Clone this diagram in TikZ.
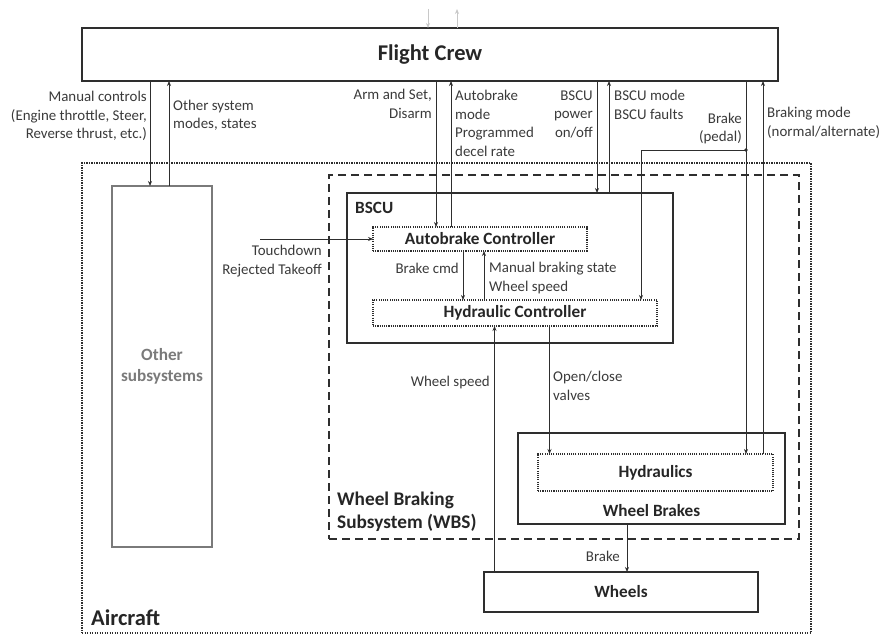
\documentclass[tikz,border=0pt]{standalone}
\usepackage{fontspec}
\setmainfont{Carlito}
\usetikzlibrary{arrows.meta}
\definecolor{txt}{HTML}{3A3A3A}
\definecolor{ln}{HTML}{2E2E2E}
\definecolor{gr}{HTML}{7A7A7A}
\definecolor{faint}{HTML}{C8C8C8}
\begin{document}
\begin{tikzpicture}[x=1pt,y=-1pt,
 box/.style={draw=ln, line width=1.4pt, inner sep=0pt, outer sep=0pt, anchor=north west},
 dotbox/.style={draw=ln, line width=1.1pt, dash pattern=on 1.1pt off 1.1pt, inner sep=0pt, outer sep=0pt, anchor=north west},
 arr/.style={draw=ln, line width=0.9pt, -{Stealth[length=5pt,width=4pt]}},
 farr/.style={draw=faint, line width=0.9pt, -{Stealth[length=5pt,width=4pt]}},
 lbl/.style={text=txt, font=\fontsize{14.9}{18.5}\selectfont, inner sep=0pt},
 blbl/.style={text=black!85, font=\fontsize{17.2}{20}\selectfont\bfseries, inner sep=0pt},
 sec/.style={text=black!85, font=\fontsize{22.5}{26}\selectfont\bfseries, inner sep=0pt}]
\useasboundingbox (0,0) rectangle (881,636);

% containers
\node[draw=ln, line width=1.5pt, dash pattern=on 1.2pt off 1.3pt, inner sep=0pt, outer sep=0pt, anchor=north west,
      minimum width=729pt, minimum height=470pt] (ac) at (82,163) {};
\node[draw=ln, line width=1.8pt, dash pattern=on 8pt off 5pt, inner sep=0pt, outer sep=0pt, anchor=north west,
      minimum width=470pt, minimum height=364pt] (wbs) at (329,175) {};
\node[sec, anchor=west] (aclbl) at (91,618) {Aircraft};
\node[text=black!85, font=\fontsize{19.3}{23}\selectfont\bfseries, inner sep=0pt, anchor=west, align=left] (wbslbl) at (337,511.5) {Wheel Braking\\Subsystem (WBS)};

% boxes
\node[box, line width=1.8pt, minimum width=696pt, minimum height=53pt,
      font=\fontsize{22.5}{26}\selectfont\bfseries, text=black!85] (fc) at (82,28) {Flight Crew};
\node[box, draw=gr, line width=1.2pt, minimum width=100pt, minimum height=361pt, align=center,
      font=\fontsize{17.2}{21}\selectfont\bfseries, text=gr] (os) at (112,186) {Other\\subsystems};
\node[box, minimum width=326pt, minimum height=150pt] (bscu) at (347,193) {};
\node[blbl, anchor=west] (bscul) at (355,208) {BSCU};
\node[dotbox, minimum width=214pt, minimum height=24pt, blbl] (ab) at (373,227) {Autobrake Controller};
\node[dotbox, minimum width=284pt, minimum height=26pt, blbl] (hc) at (373,300) {Hydraulic Controller};
\node[box, minimum width=267pt, minimum height=91pt] (wb) at (518,433) {};
\node[blbl] (wbl) at (651.5,511) {Wheel Brakes};
\node[dotbox, minimum width=235pt, minimum height=37pt, blbl] (hyd) at (538,454) {Hydraulics};
\node[box, minimum width=274pt, minimum height=40pt, blbl] (wh) at (484,572) {Wheels};

% column coordinates
\coordinate (cMC) at (150,0);
\coordinate (cOS) at (169,0);
\coordinate (cAS) at (436,0);
\coordinate (cAM) at (451,0);
\coordinate (cBP) at (597,0);
\coordinate (cBM) at (609,0);
\coordinate (cPD) at (746,0);
\coordinate (cNA) at (763,0);
\coordinate (cHB) at (641,0);
\coordinate (cBC) at (463,0);
\coordinate (cMB) at (484,0);
\coordinate (cWS) at (494.5,0);
\coordinate (cOC) at (549.5,0);
\coordinate (cBR) at (627,0);
\coordinate (bp) at (746,150);
\coordinate (td) at (260,239);
\coordinate (t1) at (428,9);
\coordinate (t2) at (457,9);

% faint arrows above
\draw[farr] (t1) -- (fc.north -| t1);
\draw[farr] (fc.north -| t2) -- (t2);

% connectors
\draw[arr] (fc.south -| cMC) -- (os.north -| cMC);
\draw[arr] (os.north -| cOS) -- (fc.south -| cOS);
\draw[arr] (fc.south -| cAS) -- (ab.north -| cAS);
\draw[arr] (ab.north -| cAM) -- (fc.south -| cAM);
\draw[arr] (fc.south -| cBP) -- (bscu.north -| cBP);
\draw[arr] (bscu.north -| cBM) -- (fc.south -| cBM);
\draw[arr] (fc.south -| cPD) -- (hyd.north -| cPD);
\draw[arr] (bp) -- (bp -| cHB) -- (hc.north -| cHB);
\fill[ln] (bp) circle (1.8pt);
\draw[arr] (hyd.north -| cNA) -- (fc.south -| cNA);
\draw[arr] (td) -- (ab.west);
\draw[arr] (ab.south -| cBC) -- (hc.north -| cBC);
\draw[arr] (hc.north -| cMB) -- (ab.south -| cMB);
\draw[arr] (wh.north -| cWS) -- (hc.south -| cWS);
\draw[arr] (hc.south -| cOC) -- (hyd.north -| cOC);
\draw[arr] (wb.south -| cBR) -- (wh.north -| cBR);

% labels
\node[lbl, anchor=east, align=right] (l1) at (147,116) {Manual controls\\(Engine throttle, Steer,\\Reverse thrust, etc.)};
\node[lbl, anchor=west, align=left] (l2) at (173,115.5) {Other system\\modes, states};
\node[lbl, anchor=east, align=right] (l3) at (432,104) {Arm and Set,\\Disarm};
\node[lbl, anchor=west, align=left] (l4) at (455,123.5) {Autobrake\\mode\\Programmed\\decel rate};
\node[lbl, anchor=east, align=right] (l5) at (593,114) {BSCU\\power\\on/off};
\node[lbl, anchor=west, align=left] (l6) at (614,105) {BSCU mode\\BSCU faults};
\node[lbl, anchor=east, align=right] (l7) at (742,128.5) {Brake\\(pedal)};
\node[lbl, anchor=west, align=left] (l8) at (767,123) {Braking mode\\(normal/alternate)};
\node[lbl, anchor=east, align=right] (l9) at (322,261) {Touchdown\\Rejected Takeoff};
\node[lbl, anchor=east] (l10) at (459,268) {Brake cmd};
\node[lbl, anchor=west, align=left] (l11) at (489,278) {Manual braking state\\Wheel speed};
\node[lbl, anchor=east] (l12) at (490,383) {Wheel speed};
\node[lbl, anchor=west, align=left] (l13) at (553,386) {Open/close\\valves};
\node[lbl, anchor=east] (l14) at (620,556) {Brake};
\end{tikzpicture}
\end{document}
